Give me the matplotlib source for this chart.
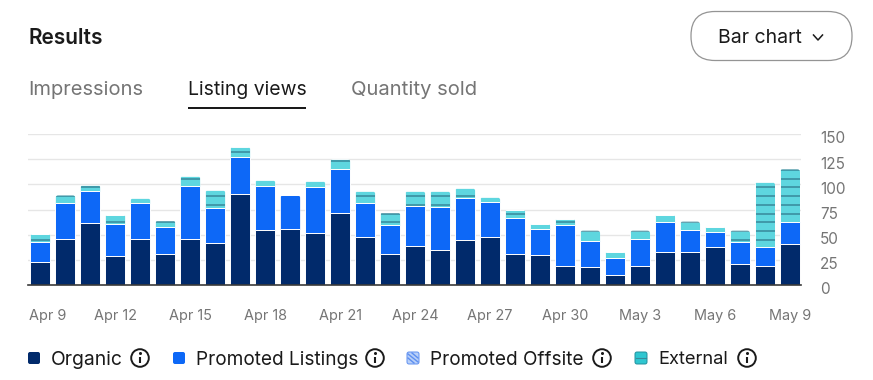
import numpy as np
import matplotlib
matplotlib.use("Agg")
import matplotlib.pyplot as plt
from matplotlib.patches import FancyBboxPatch, Circle, Rectangle
from matplotlib.transforms import ScaledTranslation

plt.rcParams['font.family'] = ['Inter', 'DejaVu Sans']

# listing views per day, Apr 9 to May 9
organic = [23, 46, 62, 29, 46, 31, 46, 42, 90, 55, 56, 52, 72, 48, 31, 39,
           35, 45, 48, 31, 30, 19, 18, 10, 19, 33, 33, 38, 21, 19, 41]
promoted = [20, 35, 31, 32, 35, 27, 52, 34, 37, 43, 33, 45, 43, 33, 29, 39,
            42, 41, 34, 36, 26, 41, 26, 17, 27, 30, 22, 15, 22, 19, 22]
external = [8, 8, 6, 9, 5, 6, 10, 18, 10, 6, 0, 6, 10, 12, 12, 15,
            16, 10, 5, 8, 5, 6, 10, 6, 8, 7, 8, 5, 11, 64, 52]

tick_days = [0, 3, 6, 9, 12, 15, 18, 21, 24, 27, 30]
tick_names = ["Apr 9", "Apr 12", "Apr 15", "Apr 18", "Apr 21", "Apr 24",
              "Apr 27", "Apr 30", "May 3", "May 6", "May 9"]
y_ticks = [0, 25, 50, 75, 100, 125, 150]

tabs = ["Impressions", "Listing views", "Quantity sold"]
legend_names = ["Organic", "Promoted Listings", "Promoted Offsite", "External"]

NAVY = "#012a6b"
BLUE = "#0d68f7"
TEAL = "#5ed6df"
STRIPE = "#38899a"
GREY = "#757575"
INK = "#1a1a1a"

W, H = 873, 380
fig = plt.figure(figsize=(W / 100, H / 100), dpi=100, facecolor="white")

# overlay in pixel coordinates for the page furniture around the chart
page = fig.add_axes([0, 0, 1, 1])
page.set_xlim(0, W)
page.set_ylim(H, 0)
page.axis("off")

ax = fig.add_axes([28 / W, (H - 285) / H, 773 / W, 151 / H])
ax.set_xlim(-0.5, 30.44)
ax.set_ylim(0, 150)
ax.patch.set_alpha(0)
for s in ["top", "left", "right"]:
    ax.spines[s].set_visible(False)
ax.spines["bottom"].set_color("#3a3a3a")
ax.spines["bottom"].set_linewidth(1.2)

ax.set_axisbelow(True)
ax.grid(axis="y", color="#e6e6e6", linewidth=1.0)

days = np.arange(len(organic))
org = np.array(organic)
pro = np.array(promoted)
ext = np.array(external)
bar_w = 0.8
edge = dict(edgecolor="white", linewidth=0.7)

ax.bar(days, org, bar_w, color=NAVY, **edge)
pro_bars = ax.bar(days, pro, bar_w, bottom=org, color=BLUE, **edge)
ext_bars = ax.bar(days, ext, bar_w, bottom=org + pro, color=TEAL, **edge)

# the stripes sit at a fixed height on the page, whichever bar they cross
stripes = 114.3 + 8.67 * np.arange(-9, 3)
aspect = 24.8
for i, day in enumerate(days):
    low = org[i] + pro[i]
    top = low + ext[i]
    clip = FancyBboxPatch((day - bar_w / 2, low - 40), bar_w, ext[i] + 40,
                          boxstyle="round,pad=0,rounding_size=0.11",
                          mutation_aspect=aspect, transform=ax.transData)
    if ext[i] > 0:
        ext_bars[i].set_clip_path(clip)
    else:
        pro_bars[i].set_clip_path(clip)
    hits = stripes[(stripes > low + 1) & (stripes < top)]
    if len(hits):
        lines = ax.hlines(hits, day - bar_w / 2 + 0.02, day + bar_w / 2 - 0.02,
                          color=STRIPE, linewidth=1.1, zorder=3)
        lines.set_clip_path(clip)

ax.set_xticks(tick_days)
ax.set_xticklabels(tick_names)
ax.set_yticks(y_ticks)
ax.yaxis.tick_right()
ax.tick_params(axis="x", length=0, pad=17.5, labelsize=10.4, labelcolor=GREY)
ax.tick_params(axis="y", length=0, pad=13.8, labelsize=11, labelcolor=GREY)

# first date label is pushed in so that it does not overhang the card
first = ax.get_xticklabels()[0]
first.set_transform(first.get_transform() + ScaledTranslation(0.075, 0, fig.dpi_scale_trans))
for lab in ax.get_yticklabels():
    lab.set_transform(lab.get_transform() + ScaledTranslation(0, -0.035, fig.dpi_scale_trans))

# header
page.text(28, 37.5, "Results", fontsize=15, fontweight="semibold", color=INK, va="center")
tab_x = [28, 188, 351]
tab_col = [GREY, INK, GREY]
tab_size = [14.5, 13.95, 14.55]
for name, x, col, size in zip(tabs, tab_x, tab_col, tab_size):
    page.text(x, 90, name, fontsize=size, color=col, va="center")
page.add_patch(Rectangle((188, 107), 118, 2, color=INK, lw=0))

# chart type button
page.add_patch(FancyBboxPatch((691 + 24, 11.5 + 24), 161 - 48, 1,
                              boxstyle="round,pad=24", fc="white", ec="#949494", lw=0.9))
page.text(718, 38, "Bar chart", fontsize=14, color=INK, va="center")
page.plot([813.5, 818, 822.5], [35, 40, 35], color=INK, lw=1.1)

# legend
sq_x = [28, 173, 407, 635]
text_x = [51, 196, 430, 658]
text_size = [13.9, 13.7, 13.7, 13.2]
icon_x = [140, 375, 602, 747]
sq_col = [NAVY, BLUE, "#b9d0f8", "#2fc6d0"]
sq_edge = ["none", "none", "#5d8ff0", "#1f8f9c"]
for i, name in enumerate(legend_names):
    page.add_patch(FancyBboxPatch((sq_x[i] + 2, 354), 8, 8, boxstyle="round,pad=2",
                                  fc=sq_col[i], ec=sq_edge[i], lw=0.7))
    page.text(text_x[i], 360, name, fontsize=text_size[i], color=INK, va="center")
    page.add_patch(Circle((icon_x[i], 358), 8.8, fc="none", ec=INK, lw=1.4))
    page.plot([icon_x[i], icon_x[i]], [356.5, 363], color=INK, lw=1.5, solid_capstyle="butt")
    page.plot([icon_x[i]], [352.8], "o", color=INK, ms=2.2, mew=0)

# offsite swatch has diagonal hatching, external has a darker band
page.plot([408, 418], [354, 362], color="#5d8ff0", lw=1)
page.plot([408, 414], [358, 363], color="#5d8ff0", lw=1)
page.plot([412, 418], [353, 358], color="#5d8ff0", lw=1)
page.plot([636, 646], [358, 358], color=STRIPE, lw=0.8)

fig.savefig("out.png", dpi=100, facecolor="white")
